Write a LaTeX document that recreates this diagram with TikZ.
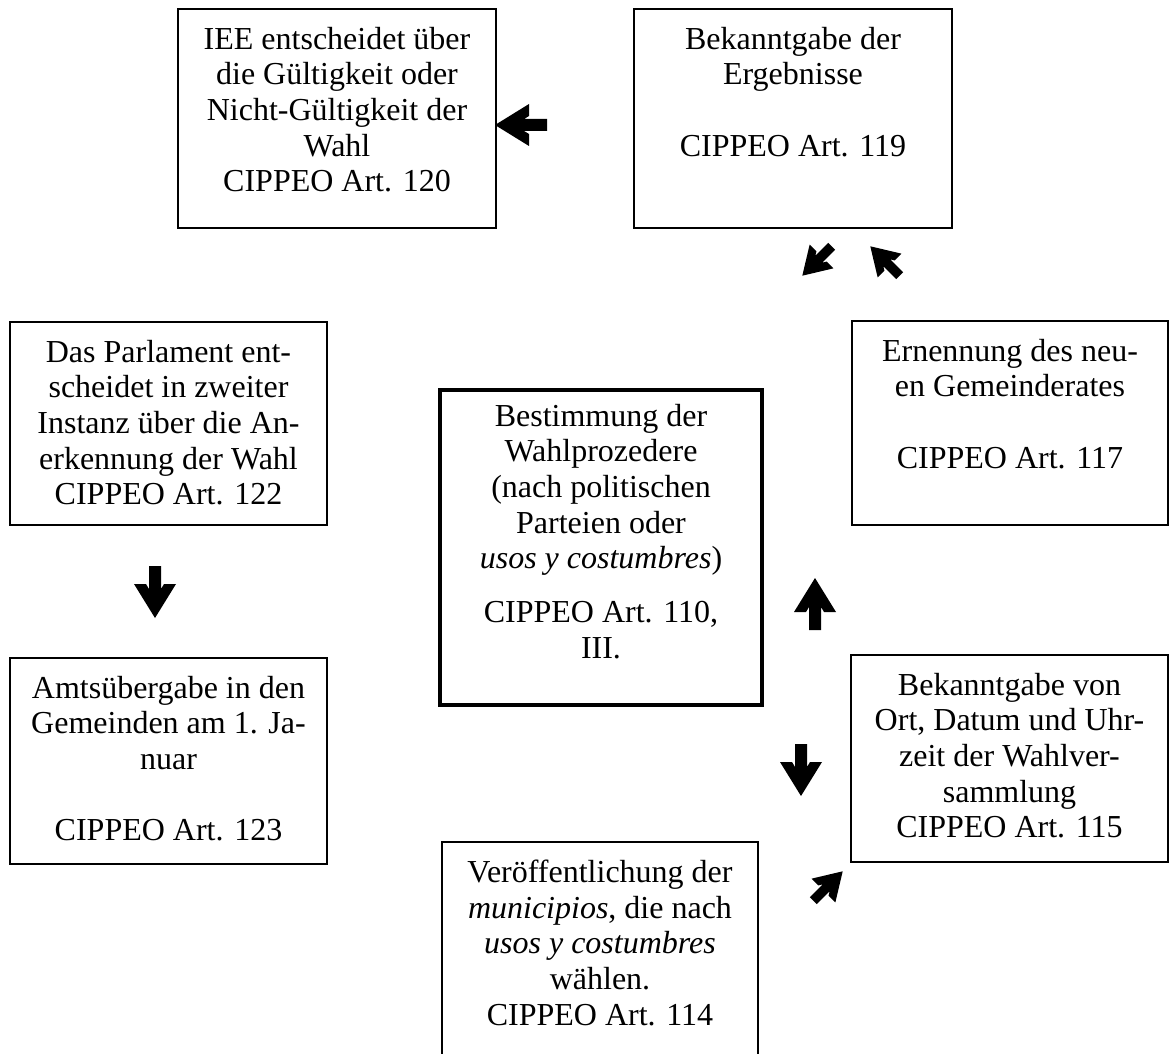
\documentclass[tikz,border=0pt]{standalone}
\usepackage{fontspec}
\setmainfont{Liberation Serif}
\usetikzlibrary{positioning,fit}

\tikzset{
  stepbox/.style={draw, line width=0.6pt, inner sep=0pt},
  boxtext/.style={align=center, inner sep=0pt, font=\fontsize{16}{17.85}\selectfont},
  pics/blockarrow/.style={code={
      \fill[black] (26,0) -- (-8,21) -- (-8,9) -- (-3,6) -- (-26,6)
        -- (-26,-6) -- (-3,-6) -- (-8,-9) -- (-8,-21) -- cycle;
  }}
}

\begin{document}
\begin{tikzpicture}[x=0.5pt, y=-0.5pt]
    \useasboundingbox (0,0) rectangle (1173,1054);

    % Boxes
    \node[stepbox, fit={(178,9) (496,228)}] (iee) {};
    \node[stepbox, fit={(634,9) (952,228)}] (ergeb) {};
    \node[stepbox, fit={(10,322) (327,525)}] (parl) {};
    \node[stepbox, fit={(852,321) (1168,525)}] (ernenn) {};
    \node[stepbox, line width=1.6pt, fit={(440,390) (762,705)}] (bestimm) {};
    \node[stepbox, fit={(10,658) (327,864)}] (amts) {};
    \node[stepbox, fit={(851,655) (1168,862)}] (ort) {};
    \node[stepbox, fit={(442,842) (758,1062)}] (veroeff) {};

    % Texts
    \node[boxtext, below=9pt of iee.north] (ieeTxt)
        {IEE entscheidet über\\die Gültigkeit oder\\Nicht-Gültigkeit der\\Wahl\\CIPPEO Art. 120};
    \node[boxtext, below=9pt of ergeb.north] (ergebTxt)
        {Bekanntgabe der\\Ergebnisse\\[17.85pt]CIPPEO Art. 119};
    \node[boxtext, below=9pt of parl.north] (parlTxt)
        {Das Parlament ent-\\scheidet in zweiter\\Instanz über die An-\\erkennung der Wahl\\CIPPEO Art. 122};
    \node[boxtext, below=9pt of ernenn.north] (ernennTxt)
        {Ernennung des neu-\\en Gemeinderates\\[17.85pt]CIPPEO Art. 117};
    \node[boxtext, below=7.5pt of bestimm.north] (bestimmTxt)
        {Bestimmung der\\Wahlprozedere\\(nach politischen\\Parteien oder\\\textit{usos y costumbres})\\[9pt]CIPPEO Art. 110,\\III.};
    \node[boxtext, below=9pt of amts.north] (amtsTxt)
        {Amtsübergabe in den\\Gemeinden am 1. Ja-\\nuar\\[17.85pt]CIPPEO Art. 123};
    \node[boxtext, below=9pt of ort.north] (ortTxt)
        {Bekanntgabe von\\Ort, Datum und Uhr-\\zeit der Wahlver-\\sammlung\\CIPPEO Art. 115};
    \node[boxtext, below=9pt of veroeff.north] (veroeffTxt)
        {Veröffentlichung der\\\textit{municipios}, die nach\\\textit{usos y costumbres}\\wählen.\\CIPPEO Art. 114};

    % Block arrows
    \pic[rotate=180] (arrIee) at (521,125) {blockarrow};
    \pic[rotate=225, scale=0.8] (arrSw) at (817,261) {blockarrow};
    \pic[rotate=135, scale=0.8] (arrNw) at (885,261) {blockarrow};
    \pic[rotate=-90] (arrParl) at (155,592) {blockarrow};
    \pic[rotate=90] (arrUp) at (815,604) {blockarrow};
    \pic[rotate=-90] (arrDown) at (801,770) {blockarrow};
    \pic[rotate=45, scale=0.8] (arrNe) at (828,886) {blockarrow};
\end{tikzpicture}
\end{document}
